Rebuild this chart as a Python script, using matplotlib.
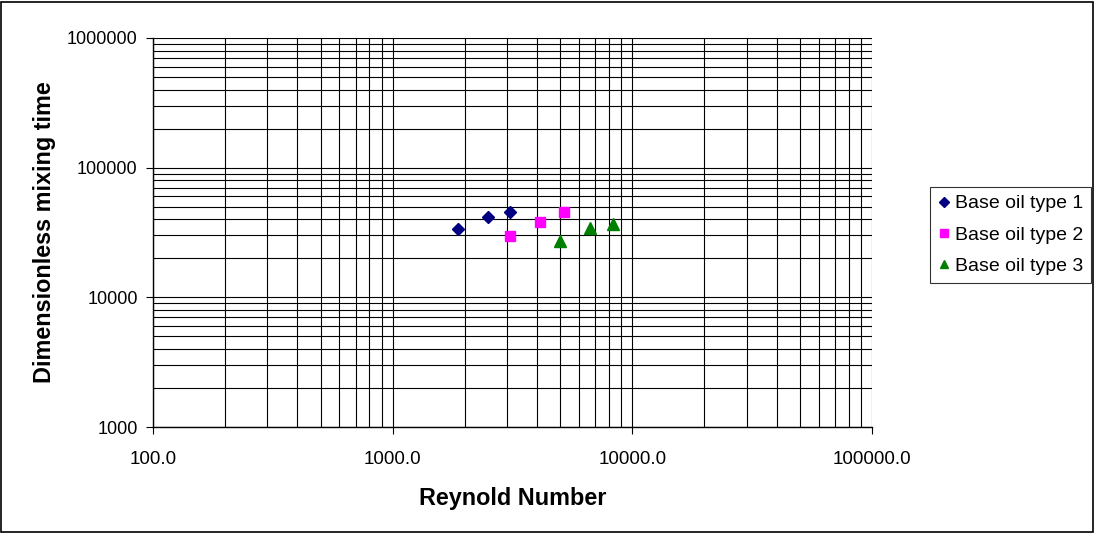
import numpy as np
from matplotlib import pyplot as plt
from matplotlib.ticker import LogLocator, FixedLocator, NullFormatter
from matplotlib.patches import Rectangle

plt.rcParams['font.family'] = ['Liberation Sans', 'DejaVu Sans']

# values
re_type1 = [1870, 2500, 3090]
t_type1 = [33700, 41700, 45500]
re_type2 = [3090, 4120, 5180]
t_type2 = [29800, 38100, 45500]
re_type3 = [4990, 6650, 8300]
t_type3 = [27200, 34300, 36800]

x_ticks = [100, 1000, 10000, 100000]
x_labels = ['100.0', '1000.0', '10000.0', '100000.0']
y_ticks = [1000, 10000, 100000, 1000000]
y_labels = ['1000', '10000', '100000', '1000000']

fig = plt.figure(figsize=(10.95, 5.33), dpi=100)
ax = fig.add_axes([153 / 1095, 1 - 427 / 533, (872 - 153) / 1095, (427 - 38) / 533])

ax.set_xscale('log')
ax.set_yscale('log')
ax.set_xlim(100, 100000)
ax.set_ylim(1000, 1000000)

ax.xaxis.set_major_locator(FixedLocator(x_ticks))
ax.yaxis.set_major_locator(FixedLocator(y_ticks))
ax.set_xticklabels(x_labels)
ax.set_yticklabels(y_labels)
ax.xaxis.set_minor_locator(LogLocator(base=10, subs=np.arange(2, 10)))
ax.yaxis.set_minor_locator(LogLocator(base=10, subs=np.arange(2, 10)))
ax.xaxis.set_minor_formatter(NullFormatter())
ax.yaxis.set_minor_formatter(NullFormatter())

ax.grid(which='both', color='black', linewidth=0.8)
ax.set_axisbelow(True)
ax.tick_params(which='major', direction='out', length=5, width=0.8, labelsize=13)
ax.tick_params(which='minor', length=0)
ax.tick_params(axis='x', pad=12, labelsize=13.5)
ax.tick_params(axis='y', pad=6)

for s in ['top', 'right']:
    ax.spines[s].set_visible(False)
ax.spines['left'].set_linewidth(1)
ax.spines['bottom'].set_linewidth(1)

ax.plot(re_type1, t_type1, 'D', color='#000080', markersize=6.5, label='Base oil type 1', clip_on=False)
ax.plot(re_type2, t_type2, 's', color='#ff00ff', markersize=7, label='Base oil type 2', clip_on=False)
ax.plot(re_type3, t_type3, '^', color='#008000', markersize=8.5, label='Base oil type 3', clip_on=False)

ax.set_xlabel('Reynold Number', fontsize=16.8, fontweight='bold', labelpad=14)
ax.set_ylabel('Dimensionless mixing time', fontsize=16.8, fontweight='bold', labelpad=8)

leg = fig.legend(loc='upper left', bbox_to_anchor=(930 / 1095, 1 - 187 / 533),
                 fontsize=14, frameon=True, fancybox=False, edgecolor='black',
                 handlelength=0.6, handletextpad=0.3, borderpad=0.4, labelspacing=0.7,
                 borderaxespad=0, markerscale=0.75)
leg.get_frame().set_linewidth(0.8)

fig.patches.append(Rectangle((0.001, 0.002), 0.997, 0.995, transform=fig.transFigure,
                             fill=False, edgecolor='black', linewidth=1.2))

fig.savefig('out.png', dpi=100)
